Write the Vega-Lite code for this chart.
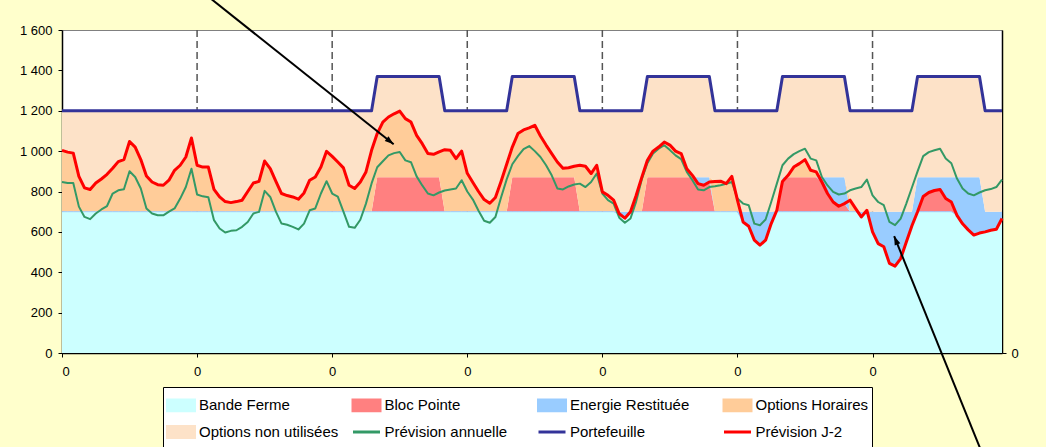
{
  "$schema": "https://vega.github.io/schema/vega-lite/v6.json",
  "width": 940,
  "height": 323,
  "autosize": {"type": "none"},
  "padding": {"left": 62, "top": 30, "right": 44, "bottom": 94},
  "background": "#FFFFCC",
  "config": {
    "view": {"fill": "#FFFFFF", "stroke": "#808080", "strokeWidth": 1},
    "font": "Liberation Sans",
    "axis": {
      "labelFont": "Liberation Sans",
      "labelFontSize": 13,
      "labelColor": "#000000",
      "domainColor": "#000000",
      "domainWidth": 1.5,
      "tickColor": "#000000",
      "tickWidth": 1,
      "tickSize": 4,
      "grid": false,
      "title": null,
      "zindex": 1
    }
  },
  "datasets": {
    "jours": [{"h": 24}, {"h": 48}, {"h": 72}, {"h": 96}, {"h": 120}, {"h": 144}],
    "fleches": [
      {"fl": 1, "h": 25.96, "v": 1766, "h2": 58.92, "v2": 1034},
      {"fl": 2, "h": 163.3, "v": -485, "h2": 147.84, "v2": 579}
    ],
    "serie": [
      {"h":0,"bf":700,"bp":0,"er":0,"oh":304,"onu":196,"pa":847,"pf":1200,"j2":1004},
      {"h":1,"bf":700,"bp":0,"er":0,"oh":295,"onu":205,"pa":842,"pf":1200,"j2":995},
      {"h":2,"bf":700,"bp":0,"er":0,"oh":290,"onu":210,"pa":842,"pf":1200,"j2":990},
      {"h":3,"bf":700,"bp":0,"er":0,"oh":175,"onu":325,"pa":725,"pf":1200,"j2":875},
      {"h":4,"bf":700,"bp":0,"er":0,"oh":118,"onu":382,"pa":674,"pf":1200,"j2":818},
      {"h":5,"bf":700,"bp":0,"er":0,"oh":110,"onu":390,"pa":663,"pf":1200,"j2":810},
      {"h":6,"bf":700,"bp":0,"er":0,"oh":142,"onu":358,"pa":691,"pf":1200,"j2":842},
      {"h":7,"bf":700,"bp":0,"er":0,"oh":162,"onu":338,"pa":711,"pf":1200,"j2":862},
      {"h":8,"bf":700,"bp":0,"er":0,"oh":185,"onu":315,"pa":728,"pf":1200,"j2":885},
      {"h":9,"bf":700,"bp":0,"er":0,"oh":215,"onu":285,"pa":790,"pf":1200,"j2":915},
      {"h":10,"bf":700,"bp":0,"er":0,"oh":248,"onu":252,"pa":806,"pf":1200,"j2":948},
      {"h":11,"bf":700,"bp":0,"er":0,"oh":258,"onu":242,"pa":811,"pf":1200,"j2":958},
      {"h":12,"bf":700,"bp":0,"er":0,"oh":348,"onu":152,"pa":900,"pf":1200,"j2":1048},
      {"h":13,"bf":700,"bp":0,"er":0,"oh":320,"onu":180,"pa":872,"pf":1200,"j2":1020},
      {"h":14,"bf":700,"bp":0,"er":0,"oh":258,"onu":242,"pa":815,"pf":1200,"j2":958},
      {"h":15,"bf":700,"bp":0,"er":0,"oh":177,"onu":323,"pa":716,"pf":1200,"j2":877},
      {"h":16,"bf":700,"bp":0,"er":0,"oh":147,"onu":353,"pa":691,"pf":1200,"j2":847},
      {"h":17,"bf":700,"bp":0,"er":0,"oh":134,"onu":366,"pa":682,"pf":1200,"j2":834},
      {"h":18,"bf":700,"bp":0,"er":0,"oh":131,"onu":369,"pa":682,"pf":1200,"j2":831},
      {"h":19,"bf":700,"bp":0,"er":0,"oh":156,"onu":344,"pa":700,"pf":1200,"j2":856},
      {"h":20,"bf":700,"bp":0,"er":0,"oh":205,"onu":295,"pa":716,"pf":1200,"j2":905},
      {"h":21,"bf":700,"bp":0,"er":0,"oh":230,"onu":270,"pa":765,"pf":1200,"j2":930},
      {"h":22,"bf":700,"bp":0,"er":0,"oh":271,"onu":229,"pa":822,"pf":1200,"j2":971},
      {"h":23,"bf":700,"bp":0,"er":0,"oh":365,"onu":135,"pa":913,"pf":1200,"j2":1065},
      {"h":24,"bf":700,"bp":0,"er":0,"oh":230,"onu":270,"pa":785,"pf":1200,"j2":930},
      {"h":25,"bf":700,"bp":0,"er":0,"oh":221,"onu":279,"pa":776,"pf":1200,"j2":921},
      {"h":26,"bf":700,"bp":0,"er":0,"oh":221,"onu":279,"pa":771,"pf":1200,"j2":921},
      {"h":27,"bf":700,"bp":0,"er":0,"oh":111,"onu":389,"pa":658,"pf":1200,"j2":811},
      {"h":28,"bf":700,"bp":0,"er":0,"oh":73,"onu":427,"pa":617,"pf":1200,"j2":773},
      {"h":29,"bf":700,"bp":0,"er":0,"oh":50,"onu":450,"pa":597,"pf":1200,"j2":750},
      {"h":30,"bf":700,"bp":0,"er":0,"oh":45,"onu":455,"pa":605,"pf":1200,"j2":745},
      {"h":31,"bf":700,"bp":0,"er":0,"oh":50,"onu":450,"pa":608,"pf":1200,"j2":750},
      {"h":32,"bf":700,"bp":0,"er":0,"oh":57,"onu":443,"pa":625,"pf":1200,"j2":757},
      {"h":33,"bf":700,"bp":0,"er":0,"oh":100,"onu":400,"pa":649,"pf":1200,"j2":800},
      {"h":34,"bf":700,"bp":0,"er":0,"oh":142,"onu":358,"pa":691,"pf":1200,"j2":842},
      {"h":35,"bf":700,"bp":0,"er":0,"oh":150,"onu":350,"pa":699,"pf":1200,"j2":850},
      {"h":36,"bf":700,"bp":0,"er":0,"oh":251,"onu":249,"pa":803,"pf":1200,"j2":951},
      {"h":37,"bf":700,"bp":0,"er":0,"oh":213,"onu":287,"pa":773,"pf":1200,"j2":913},
      {"h":38,"bf":700,"bp":0,"er":0,"oh":150,"onu":350,"pa":700,"pf":1200,"j2":850},
      {"h":39,"bf":700,"bp":0,"er":0,"oh":90,"onu":410,"pa":641,"pf":1200,"j2":790},
      {"h":40,"bf":700,"bp":0,"er":0,"oh":80,"onu":420,"pa":635,"pf":1200,"j2":780},
      {"h":41,"bf":700,"bp":0,"er":0,"oh":73,"onu":427,"pa":625,"pf":1200,"j2":773},
      {"h":42,"bf":700,"bp":0,"er":0,"oh":62,"onu":438,"pa":612,"pf":1200,"j2":762},
      {"h":43,"bf":700,"bp":0,"er":0,"oh":93,"onu":407,"pa":641,"pf":1200,"j2":793},
      {"h":44,"bf":700,"bp":0,"er":0,"oh":156,"onu":344,"pa":707,"pf":1200,"j2":856},
      {"h":45,"bf":700,"bp":0,"er":0,"oh":172,"onu":328,"pa":716,"pf":1200,"j2":872},
      {"h":46,"bf":700,"bp":0,"er":0,"oh":221,"onu":279,"pa":790,"pf":1200,"j2":921},
      {"h":47,"bf":700,"bp":0,"er":0,"oh":299,"onu":201,"pa":851,"pf":1200,"j2":999},
      {"h":48,"bf":700,"bp":0,"er":0,"oh":274,"onu":226,"pa":790,"pf":1200,"j2":974},
      {"h":49,"bf":700,"bp":0,"er":0,"oh":246,"onu":254,"pa":775,"pf":1200,"j2":946},
      {"h":50,"bf":700,"bp":0,"er":0,"oh":217,"onu":283,"pa":700,"pf":1200,"j2":917},
      {"h":51,"bf":700,"bp":0,"er":0,"oh":131,"onu":369,"pa":625,"pf":1200,"j2":831},
      {"h":52,"bf":700,"bp":0,"er":0,"oh":115,"onu":385,"pa":620,"pf":1200,"j2":815},
      {"h":53,"bf":700,"bp":0,"er":0,"oh":147,"onu":353,"pa":660,"pf":1200,"j2":847},
      {"h":54,"bf":700,"bp":0,"er":0,"oh":197,"onu":303,"pa":740,"pf":1200,"j2":897},
      {"h":55,"bf":700,"bp":0,"er":0,"oh":304,"onu":196,"pa":840,"pf":1200,"j2":1004},
      {"h":56,"bf":700,"bp":170,"er":0,"oh":217,"onu":283,"pa":920,"pf":1370,"j2":1087},
      {"h":57,"bf":700,"bp":170,"er":0,"oh":274,"onu":226,"pa":950,"pf":1370,"j2":1144},
      {"h":58,"bf":700,"bp":170,"er":0,"oh":299,"onu":201,"pa":979,"pf":1370,"j2":1169},
      {"h":59,"bf":700,"bp":170,"er":0,"oh":315,"onu":185,"pa":990,"pf":1370,"j2":1185},
      {"h":60,"bf":700,"bp":170,"er":0,"oh":328,"onu":172,"pa":996,"pf":1370,"j2":1198},
      {"h":61,"bf":700,"bp":170,"er":0,"oh":291,"onu":209,"pa":954,"pf":1370,"j2":1161},
      {"h":62,"bf":700,"bp":170,"er":0,"oh":274,"onu":226,"pa":945,"pf":1370,"j2":1144},
      {"h":63,"bf":700,"bp":170,"er":0,"oh":208,"onu":292,"pa":875,"pf":1370,"j2":1078},
      {"h":64,"bf":700,"bp":170,"er":0,"oh":167,"onu":333,"pa":830,"pf":1370,"j2":1037},
      {"h":65,"bf":700,"bp":170,"er":0,"oh":118,"onu":382,"pa":790,"pf":1370,"j2":988},
      {"h":66,"bf":700,"bp":170,"er":0,"oh":114,"onu":386,"pa":781,"pf":1370,"j2":984},
      {"h":67,"bf":700,"bp":170,"er":0,"oh":126,"onu":374,"pa":795,"pf":1370,"j2":996},
      {"h":68,"bf":700,"bp":0,"er":0,"oh":307,"onu":193,"pa":805,"pf":1200,"j2":1007},
      {"h":69,"bf":700,"bp":0,"er":0,"oh":304,"onu":196,"pa":810,"pf":1200,"j2":1004},
      {"h":70,"bf":700,"bp":0,"er":0,"oh":263,"onu":237,"pa":815,"pf":1200,"j2":963},
      {"h":71,"bf":700,"bp":0,"er":0,"oh":300,"onu":200,"pa":856,"pf":1200,"j2":1000},
      {"h":72,"bf":700,"bp":0,"er":0,"oh":190,"onu":310,"pa":800,"pf":1200,"j2":890},
      {"h":73,"bf":700,"bp":0,"er":0,"oh":145,"onu":355,"pa":760,"pf":1200,"j2":845},
      {"h":74,"bf":700,"bp":0,"er":0,"oh":100,"onu":400,"pa":705,"pf":1200,"j2":800},
      {"h":75,"bf":700,"bp":0,"er":0,"oh":60,"onu":440,"pa":655,"pf":1200,"j2":760},
      {"h":76,"bf":700,"bp":0,"er":0,"oh":42,"onu":458,"pa":645,"pf":1200,"j2":742},
      {"h":77,"bf":700,"bp":0,"er":0,"oh":70,"onu":430,"pa":674,"pf":1200,"j2":770},
      {"h":78,"bf":700,"bp":0,"er":0,"oh":150,"onu":350,"pa":770,"pf":1200,"j2":850},
      {"h":79,"bf":700,"bp":0,"er":0,"oh":235,"onu":265,"pa":860,"pf":1200,"j2":935},
      {"h":80,"bf":700,"bp":170,"er":0,"oh":150,"onu":350,"pa":935,"pf":1370,"j2":1020},
      {"h":81,"bf":700,"bp":170,"er":0,"oh":217,"onu":283,"pa":975,"pf":1370,"j2":1087},
      {"h":82,"bf":700,"bp":170,"er":0,"oh":235,"onu":265,"pa":1010,"pf":1370,"j2":1105},
      {"h":83,"bf":700,"bp":170,"er":0,"oh":245,"onu":255,"pa":1025,"pf":1370,"j2":1115},
      {"h":84,"bf":700,"bp":170,"er":0,"oh":258,"onu":242,"pa":1000,"pf":1370,"j2":1128},
      {"h":85,"bf":700,"bp":170,"er":0,"oh":205,"onu":295,"pa":971,"pf":1370,"j2":1075},
      {"h":86,"bf":700,"bp":170,"er":0,"oh":160,"onu":340,"pa":930,"pf":1370,"j2":1030},
      {"h":87,"bf":700,"bp":170,"er":0,"oh":118,"onu":382,"pa":880,"pf":1370,"j2":988},
      {"h":88,"bf":700,"bp":170,"er":0,"oh":76,"onu":424,"pa":815,"pf":1370,"j2":946},
      {"h":89,"bf":700,"bp":170,"er":0,"oh":45,"onu":455,"pa":810,"pf":1370,"j2":915},
      {"h":90,"bf":700,"bp":170,"er":0,"oh":48,"onu":452,"pa":825,"pf":1370,"j2":918},
      {"h":91,"bf":700,"bp":170,"er":0,"oh":55,"onu":445,"pa":835,"pf":1370,"j2":925},
      {"h":92,"bf":700,"bp":0,"er":0,"oh":230,"onu":270,"pa":839,"pf":1200,"j2":930},
      {"h":93,"bf":700,"bp":0,"er":0,"oh":225,"onu":275,"pa":822,"pf":1200,"j2":925},
      {"h":94,"bf":700,"bp":0,"er":0,"oh":189,"onu":311,"pa":847,"pf":1200,"j2":889},
      {"h":95,"bf":700,"bp":0,"er":0,"oh":230,"onu":270,"pa":889,"pf":1200,"j2":930},
      {"h":96,"bf":700,"bp":0,"er":0,"oh":98,"onu":402,"pa":790,"pf":1200,"j2":798},
      {"h":97,"bf":700,"bp":0,"er":0,"oh":81,"onu":419,"pa":757,"pf":1200,"j2":781},
      {"h":98,"bf":700,"bp":0,"er":0,"oh":57,"onu":443,"pa":740,"pf":1200,"j2":757},
      {"h":99,"bf":690,"bp":0,"er":10,"oh":0,"onu":500,"pa":670,"pf":1200,"j2":690},
      {"h":100,"bf":668,"bp":0,"er":32,"oh":0,"onu":500,"pa":645,"pf":1200,"j2":668},
      {"h":101,"bf":700,"bp":0,"er":0,"oh":0,"onu":500,"pa":666,"pf":1200,"j2":700},
      {"h":102,"bf":700,"bp":0,"er":0,"oh":80,"onu":420,"pa":750,"pf":1200,"j2":780},
      {"h":103,"bf":700,"bp":0,"er":0,"oh":170,"onu":330,"pa":860,"pf":1200,"j2":870},
      {"h":104,"bf":700,"bp":170,"er":0,"oh":85,"onu":415,"pa":940,"pf":1370,"j2":955},
      {"h":105,"bf":700,"bp":170,"er":0,"oh":130,"onu":370,"pa":988,"pf":1370,"j2":1000},
      {"h":106,"bf":700,"bp":170,"er":0,"oh":150,"onu":350,"pa":1012,"pf":1370,"j2":1020},
      {"h":107,"bf":700,"bp":170,"er":0,"oh":175,"onu":325,"pa":1029,"pf":1370,"j2":1045},
      {"h":108,"bf":700,"bp":170,"er":0,"oh":160,"onu":340,"pa":1005,"pf":1370,"j2":1030},
      {"h":109,"bf":700,"bp":170,"er":0,"oh":130,"onu":370,"pa":979,"pf":1370,"j2":1000},
      {"h":110,"bf":700,"bp":170,"er":0,"oh":118,"onu":382,"pa":960,"pf":1370,"j2":988},
      {"h":111,"bf":700,"bp":170,"er":0,"oh":43,"onu":457,"pa":897,"pf":1370,"j2":913},
      {"h":112,"bf":700,"bp":170,"er":0,"oh":10,"onu":490,"pa":856,"pf":1370,"j2":880},
      {"h":113,"bf":700,"bp":139,"er":31,"oh":0,"onu":500,"pa":810,"pf":1370,"j2":839},
      {"h":114,"bf":700,"bp":131,"er":39,"oh":0,"onu":500,"pa":806,"pf":1370,"j2":831},
      {"h":115,"bf":700,"bp":147,"er":23,"oh":0,"onu":500,"pa":822,"pf":1370,"j2":847},
      {"h":116,"bf":700,"bp":0,"er":0,"oh":149,"onu":351,"pa":826,"pf":1200,"j2":849},
      {"h":117,"bf":700,"bp":0,"er":0,"oh":151,"onu":349,"pa":831,"pf":1200,"j2":851},
      {"h":118,"bf":700,"bp":0,"er":0,"oh":139,"onu":361,"pa":838,"pf":1200,"j2":839},
      {"h":119,"bf":700,"bp":0,"er":0,"oh":175,"onu":325,"pa":847,"pf":1200,"j2":875},
      {"h":120,"bf":700,"bp":0,"er":0,"oh":57,"onu":443,"pa":765,"pf":1200,"j2":757},
      {"h":121,"bf":649,"bp":0,"er":51,"oh":0,"onu":500,"pa":740,"pf":1200,"j2":649},
      {"h":122,"bf":628,"bp":0,"er":72,"oh":0,"onu":500,"pa":732,"pf":1200,"j2":628},
      {"h":123,"bf":559,"bp":0,"er":141,"oh":0,"onu":500,"pa":641,"pf":1200,"j2":559},
      {"h":124,"bf":534,"bp":0,"er":166,"oh":0,"onu":500,"pa":633,"pf":1200,"j2":534},
      {"h":125,"bf":559,"bp":0,"er":141,"oh":0,"onu":500,"pa":661,"pf":1200,"j2":559},
      {"h":126,"bf":641,"bp":0,"er":59,"oh":0,"onu":500,"pa":748,"pf":1200,"j2":641},
      {"h":127,"bf":700,"bp":0,"er":0,"oh":7,"onu":493,"pa":839,"pf":1200,"j2":707},
      {"h":128,"bf":700,"bp":150,"er":20,"oh":0,"onu":500,"pa":930,"pf":1370,"j2":850},
      {"h":129,"bf":700,"bp":170,"er":0,"oh":10,"onu":490,"pa":963,"pf":1370,"j2":880},
      {"h":130,"bf":700,"bp":170,"er":0,"oh":51,"onu":449,"pa":985,"pf":1370,"j2":921},
      {"h":131,"bf":700,"bp":170,"er":0,"oh":68,"onu":432,"pa":1000,"pf":1370,"j2":938},
      {"h":132,"bf":700,"bp":170,"er":0,"oh":88,"onu":412,"pa":1012,"pf":1370,"j2":958},
      {"h":133,"bf":700,"bp":170,"er":0,"oh":35,"onu":465,"pa":963,"pf":1370,"j2":905},
      {"h":134,"bf":700,"bp":170,"er":0,"oh":27,"onu":473,"pa":954,"pf":1370,"j2":897},
      {"h":135,"bf":700,"bp":147,"er":23,"oh":0,"onu":500,"pa":872,"pf":1370,"j2":847},
      {"h":136,"bf":700,"bp":90,"er":80,"oh":0,"onu":500,"pa":830,"pf":1370,"j2":790},
      {"h":137,"bf":700,"bp":48,"er":122,"oh":0,"onu":500,"pa":798,"pf":1370,"j2":748},
      {"h":138,"bf":700,"bp":27,"er":143,"oh":0,"onu":500,"pa":785,"pf":1370,"j2":727},
      {"h":139,"bf":700,"bp":40,"er":130,"oh":0,"onu":500,"pa":790,"pf":1370,"j2":740},
      {"h":140,"bf":700,"bp":0,"er":0,"oh":57,"onu":443,"pa":806,"pf":1200,"j2":757},
      {"h":141,"bf":700,"bp":0,"er":0,"oh":15,"onu":485,"pa":815,"pf":1200,"j2":715},
      {"h":142,"bf":674,"bp":0,"er":26,"oh":0,"onu":500,"pa":822,"pf":1200,"j2":674},
      {"h":143,"bf":700,"bp":0,"er":0,"oh":7,"onu":493,"pa":859,"pf":1200,"j2":707},
      {"h":144,"bf":600,"bp":0,"er":100,"oh":0,"onu":500,"pa":781,"pf":1200,"j2":600},
      {"h":145,"bf":542,"bp":0,"er":158,"oh":0,"onu":500,"pa":748,"pf":1200,"j2":542},
      {"h":146,"bf":526,"bp":0,"er":174,"oh":0,"onu":500,"pa":732,"pf":1200,"j2":526},
      {"h":147,"bf":444,"bp":0,"er":256,"oh":0,"onu":500,"pa":649,"pf":1200,"j2":444},
      {"h":148,"bf":430,"bp":0,"er":270,"oh":0,"onu":500,"pa":633,"pf":1200,"j2":430},
      {"h":149,"bf":468,"bp":0,"er":232,"oh":0,"onu":500,"pa":666,"pf":1200,"j2":468},
      {"h":150,"bf":550,"bp":0,"er":150,"oh":0,"onu":500,"pa":740,"pf":1200,"j2":550},
      {"h":151,"bf":630,"bp":0,"er":70,"oh":0,"onu":500,"pa":820,"pf":1200,"j2":630},
      {"h":152,"bf":700,"bp":0,"er":170,"oh":0,"onu":500,"pa":900,"pf":1370,"j2":700},
      {"h":153,"bf":700,"bp":75,"er":95,"oh":0,"onu":500,"pa":975,"pf":1370,"j2":775},
      {"h":154,"bf":700,"bp":95,"er":75,"oh":0,"onu":500,"pa":995,"pf":1370,"j2":795},
      {"h":155,"bf":700,"bp":105,"er":65,"oh":0,"onu":500,"pa":1004,"pf":1370,"j2":805},
      {"h":156,"bf":700,"bp":110,"er":60,"oh":0,"onu":500,"pa":1012,"pf":1370,"j2":810},
      {"h":157,"bf":700,"bp":65,"er":105,"oh":0,"onu":500,"pa":963,"pf":1370,"j2":765},
      {"h":158,"bf":700,"bp":48,"er":122,"oh":0,"onu":500,"pa":940,"pf":1370,"j2":748},
      {"h":159,"bf":682,"bp":0,"er":188,"oh":0,"onu":500,"pa":864,"pf":1370,"j2":682},
      {"h":160,"bf":640,"bp":0,"er":230,"oh":0,"onu":500,"pa":815,"pf":1370,"j2":640},
      {"h":161,"bf":610,"bp":0,"er":260,"oh":0,"onu":500,"pa":790,"pf":1370,"j2":610},
      {"h":162,"bf":584,"bp":0,"er":286,"oh":0,"onu":500,"pa":781,"pf":1370,"j2":584},
      {"h":163,"bf":594,"bp":0,"er":276,"oh":0,"onu":500,"pa":795,"pf":1370,"j2":594},
      {"h":164,"bf":600,"bp":0,"er":100,"oh":0,"onu":500,"pa":806,"pf":1200,"j2":600},
      {"h":165,"bf":608,"bp":0,"er":92,"oh":0,"onu":500,"pa":812,"pf":1200,"j2":608},
      {"h":166,"bf":613,"bp":0,"er":87,"oh":0,"onu":500,"pa":822,"pf":1200,"j2":613},
      {"h":167,"bf":666,"bp":0,"er":34,"oh":0,"onu":500,"pa":859,"pf":1200,"j2":666}
    ]
  },
  "layer": [
    {
      "data": {"name": "jours"},
      "mark": {"type": "rule", "color": "#555555", "strokeWidth": 1.5, "strokeDash": [7, 4]},
      "encoding": {
        "x": {"field": "h", "type": "quantitative", "scale": {"domain": [0, 167], "nice": false, "zero": false}, "axis": null}
      }
    },
    {
      "data": {"name": "serie"},
      "transform": [{"fold": ["bf", "bp", "er", "oh", "onu"], "as": ["key", "v"]}],
      "mark": {"type": "area", "interpolate": "linear"},
      "encoding": {
        "x": {
          "field": "h", "type": "quantitative",
          "scale": {"domain": [0, 167], "nice": false, "zero": false},
          "axis": {"values": [0, 24, 48, 72, 96, 120, 144], "labelExpr": "'0'", "labelPadding": 8}
        },
        "y": {
          "field": "v", "type": "quantitative", "stack": "zero",
          "scale": {"domain": [0, 1600], "nice": false},
          "axis": {
            "values": [0, 200, 400, 600, 800, 1000, 1200, 1400, 1600],
            "labelExpr": "replace(format(datum.value, ','), ',', ' ')",
            "labelPadding": 6
          }
        },
        "color": {
          "field": "key", "type": "nominal",
          "scale": {
            "domain": ["bf", "bp", "er", "oh", "onu", "pa", "pf", "j2"],
            "range": ["#CCFFFF", "#FF8080", "#99CCFF", "#FFCC99", "#FDE2C8", "#339966", "#333399", "#FF0000"]
          },
          "legend": {
            "title": null,
            "orient": "none",
            "direction": "horizontal",
            "legendX": 101,
            "legendY": 357,
            "columns": 4,
            "gridAlign": "all",
            "columnPadding": 7.5,
            "rowPadding": -5,
            "symbolSize": 729,
            "symbolType": {"expr": "indexof(['pa','pf','j2'], datum.value) >= 0 ? 'stroke' : 'M-1,-0.4H1V0.4H-1Z'"},
            "symbolStrokeColor": {"expr": "indexof(['pa','pf','j2'], datum.value) >= 0 ? scale('color', datum.value) : 'transparent'"},
            "symbolStrokeWidth": 3,
            "symbolOpacity": 1,
            "labelFont": "Liberation Sans",
            "labelFontSize": 15,
            "labelColor": "#000000",
            "labelOffset": 3,
            "labelLimit": 400,
            "padding": 3,
            "fillColor": "#FFFFFF",
            "strokeColor": "#000000",
            "labelExpr": "datum.value === 'bf' ? 'Bande Ferme' : datum.value === 'bp' ? 'Bloc Pointe' : datum.value === 'er' ? 'Energie Restituée' : datum.value === 'oh' ? 'Options Horaires' : datum.value === 'onu' ? 'Options non utilisées' : datum.value === 'pa' ? 'Prévision annuelle' : datum.value === 'pf' ? 'Portefeuille' : 'Prévision J-2'"
          }
        },
        "order": {"field": "key", "type": "ordinal", "sort": "ascending"}
      }
    },
    {
      "data": {"name": "serie"},
      "mark": {"type": "line", "color": "#99CCFF", "strokeWidth": 1},
      "encoding": {
        "x": {"field": "h", "type": "quantitative", "scale": {"domain": [0, 167], "nice": false, "zero": false}, "axis": null},
        "y": {"field": "bf", "type": "quantitative", "scale": {"domain": [0, 1600], "nice": false}, "axis": null}
      }
    },
    {
      "data": {"name": "serie"},
      "transform": [{"fold": ["pf"], "as": ["key", "v"]}],
      "mark": {"type": "line", "strokeWidth": 3, "strokeJoin": "round"},
      "encoding": {
        "x": {"field": "h", "type": "quantitative", "scale": {"domain": [0, 167], "nice": false, "zero": false}, "axis": null},
        "y": {"field": "v", "type": "quantitative", "scale": {"domain": [0, 1600], "nice": false}, "axis": null},
        "color": {"field": "key", "type": "nominal", "scale": {"domain": ["bf", "bp", "er", "oh", "onu", "pa", "pf", "j2"], "range": ["#CCFFFF", "#FF8080", "#99CCFF", "#FFCC99", "#FDE2C8", "#339966", "#333399", "#FF0000"]}, "legend": null}
      }
    },
    {
      "data": {"name": "serie"},
      "transform": [{"fold": ["pa"], "as": ["key", "v"]}],
      "mark": {"type": "line", "strokeWidth": 2, "strokeJoin": "round"},
      "encoding": {
        "x": {"field": "h", "type": "quantitative", "scale": {"domain": [0, 167], "nice": false, "zero": false}, "axis": null},
        "y": {"field": "v", "type": "quantitative", "scale": {"domain": [0, 1600], "nice": false}, "axis": null},
        "color": {"field": "key", "type": "nominal", "scale": {"domain": ["bf", "bp", "er", "oh", "onu", "pa", "pf", "j2"], "range": ["#CCFFFF", "#FF8080", "#99CCFF", "#FFCC99", "#FDE2C8", "#339966", "#333399", "#FF0000"]}, "legend": null}
      }
    },
    {
      "data": {"name": "serie"},
      "transform": [{"fold": ["j2"], "as": ["key", "v"]}],
      "mark": {"type": "line", "strokeWidth": 3, "strokeJoin": "round"},
      "encoding": {
        "x": {"field": "h", "type": "quantitative", "scale": {"domain": [0, 167], "nice": false, "zero": false}, "axis": null},
        "y": {"field": "v", "type": "quantitative", "scale": {"domain": [0, 1600], "nice": false}, "axis": {"orient": "right", "values": [0], "labelPadding": 5}},
        "color": {"field": "key", "type": "nominal", "scale": {"domain": ["bf", "bp", "er", "oh", "onu", "pa", "pf", "j2"], "range": ["#CCFFFF", "#FF8080", "#99CCFF", "#FFCC99", "#FDE2C8", "#339966", "#333399", "#FF0000"]}, "legend": null}
      }
    },
    {
      "data": {"name": "fleches"},
      "mark": {"type": "rule", "color": "#000000", "strokeWidth": 2},
      "encoding": {
        "x": {"field": "h", "type": "quantitative", "scale": {"domain": [0, 167], "nice": false, "zero": false}, "axis": null},
        "x2": {"field": "h2"},
        "y": {"field": "v", "type": "quantitative", "scale": {"domain": [0, 1600], "nice": false}, "axis": null},
        "y2": {"field": "v2"}
      }
    },
    {
      "data": {"name": "fleches"},
      "transform": [{"filter": "datum.fl === 1"}],
      "mark": {"type": "point", "shape": "M0,0L0.6,1.8L-0.6,1.8Z", "filled": true, "color": "#000000", "opacity": 1, "size": 100, "angle": 128.6},
      "encoding": {
        "x": {"field": "h2", "type": "quantitative", "scale": {"domain": [0, 167], "nice": false, "zero": false}, "axis": null},
        "y": {"field": "v2", "type": "quantitative", "scale": {"domain": [0, 1600], "nice": false}, "axis": null}
      }
    },
    {
      "data": {"name": "fleches"},
      "transform": [{"filter": "datum.fl === 2"}],
      "mark": {"type": "point", "shape": "M0,0L0.6,1.8L-0.6,1.8Z", "filled": true, "color": "#000000", "opacity": 1, "size": 100, "angle": 338},
      "encoding": {
        "x": {"field": "h2", "type": "quantitative", "scale": {"domain": [0, 167], "nice": false, "zero": false}, "axis": null},
        "y": {"field": "v2", "type": "quantitative", "scale": {"domain": [0, 1600], "nice": false}, "axis": null}
      }
    }
  ],
  "resolve": {"axis": {"x": "independent", "y": "independent"}}
}
